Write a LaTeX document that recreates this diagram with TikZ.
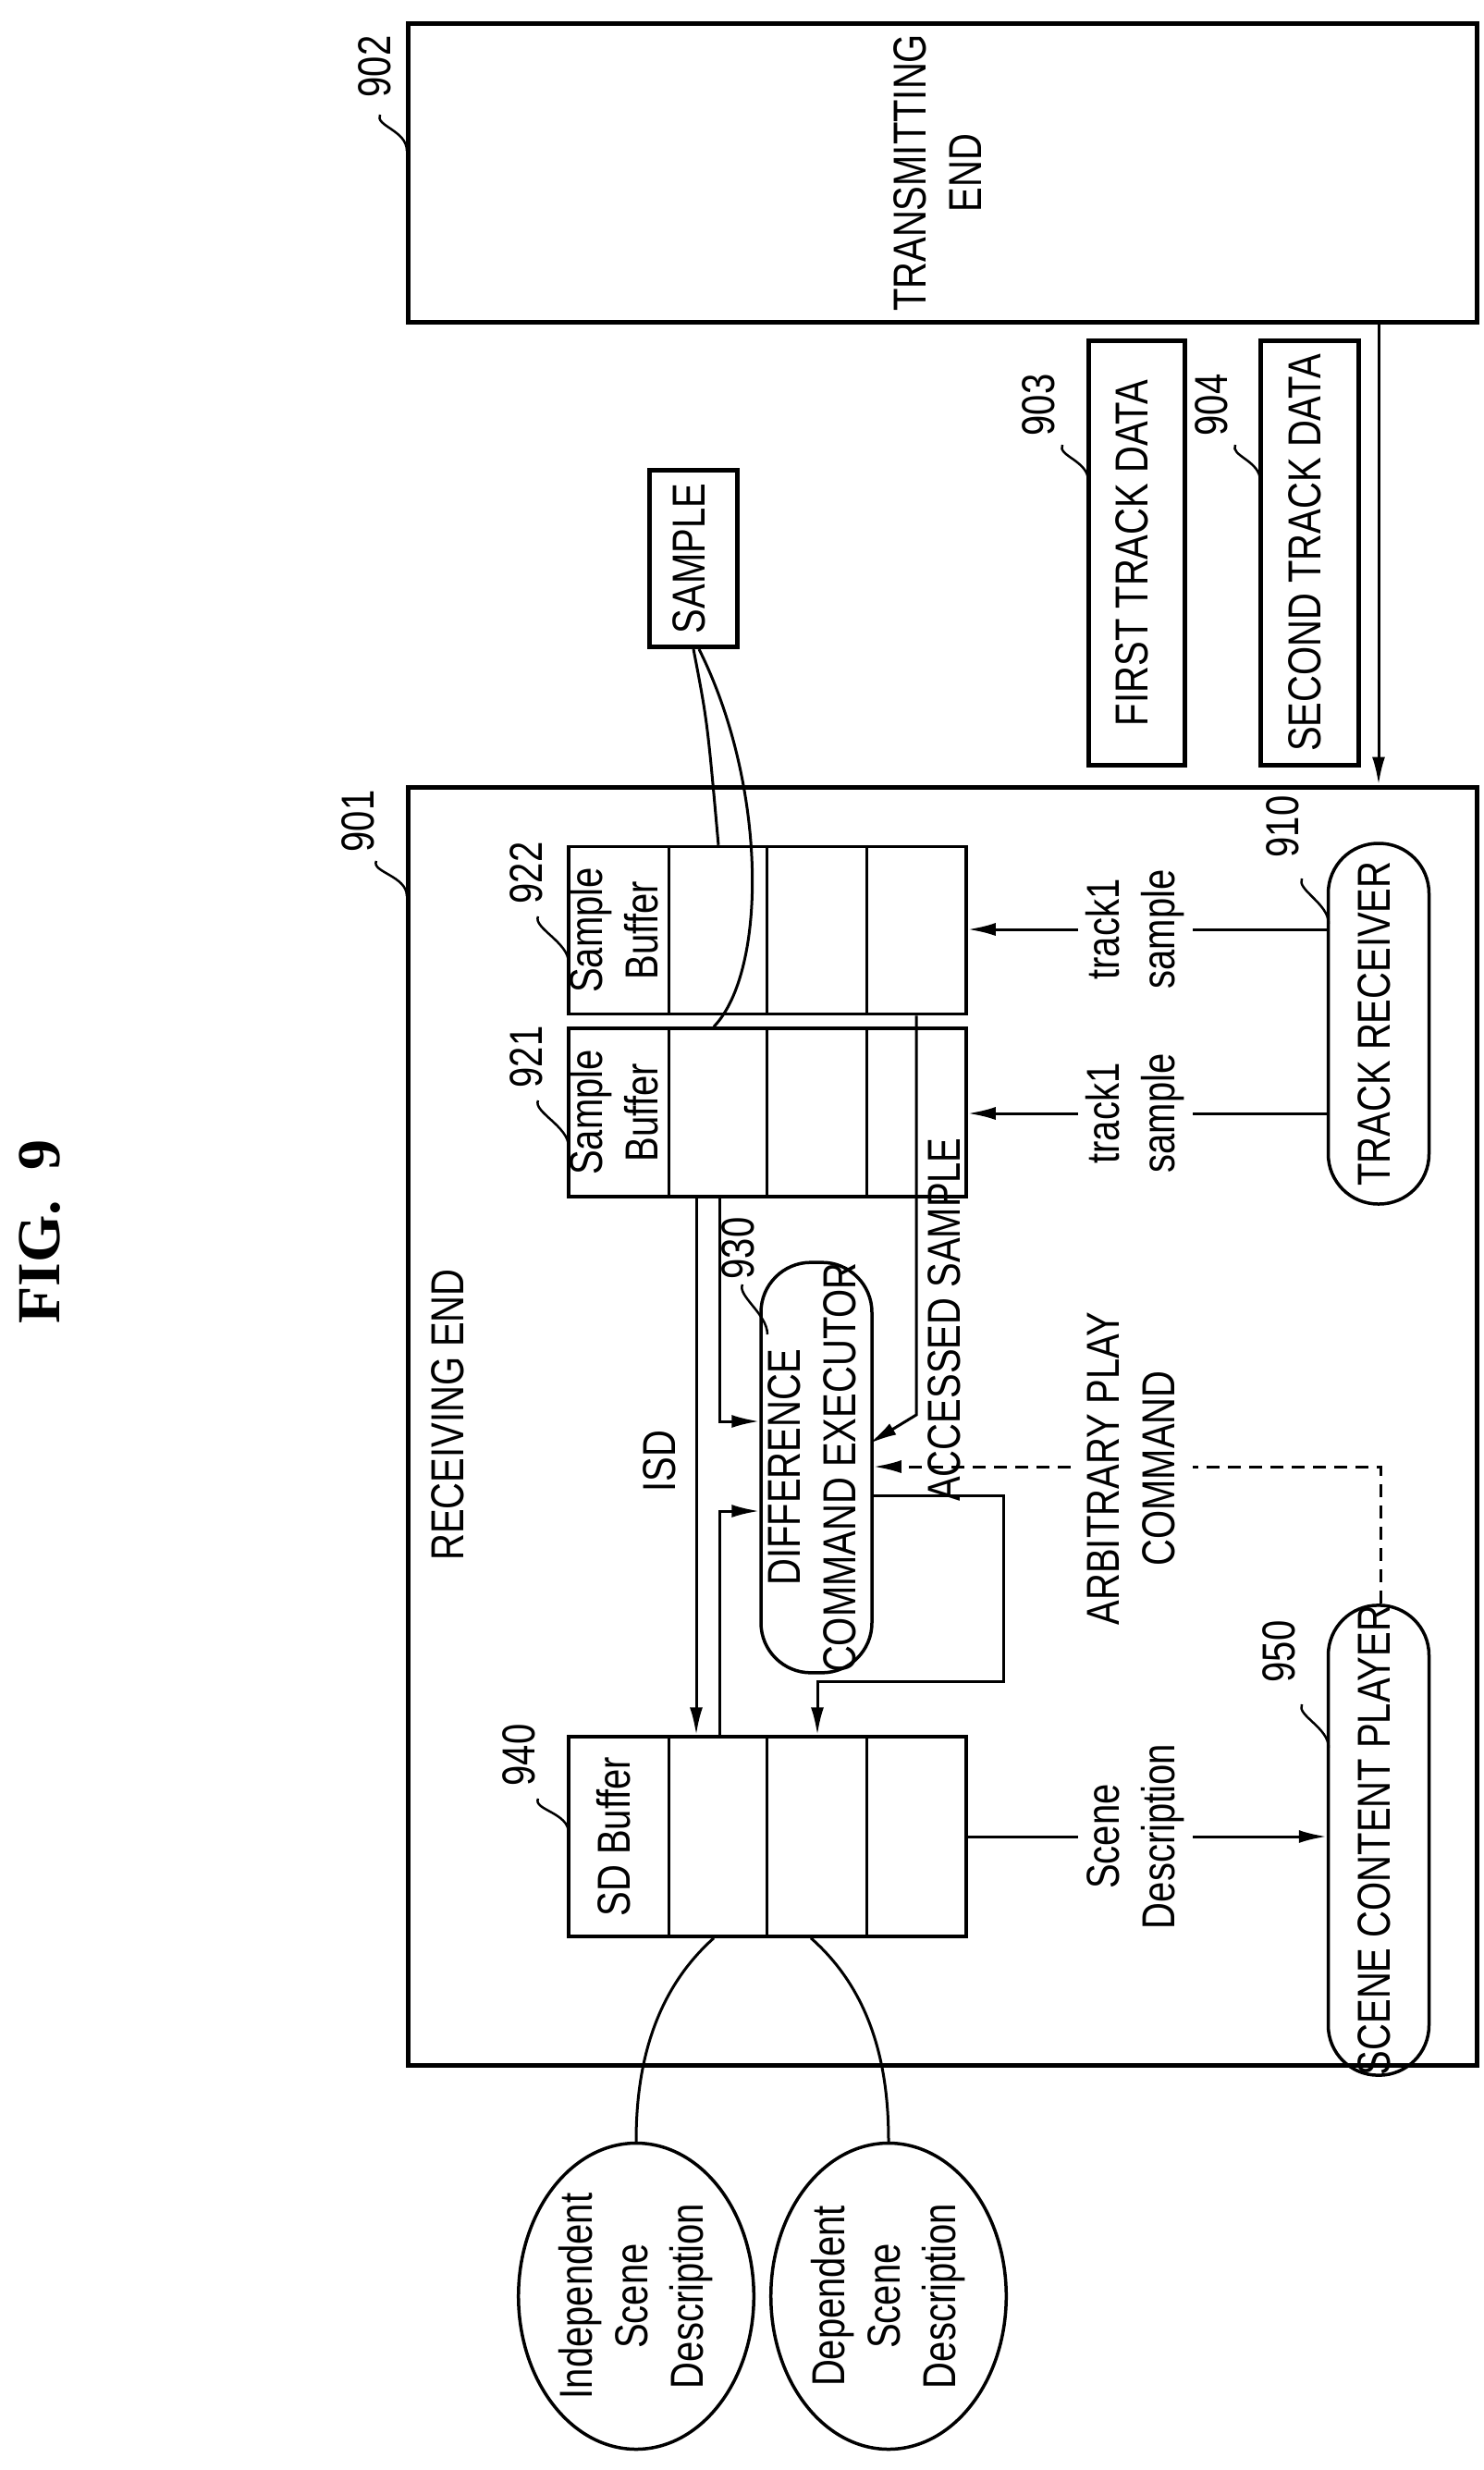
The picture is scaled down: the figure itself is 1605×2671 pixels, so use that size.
\documentclass[tikz,border=0pt]{standalone}
\usepackage{fontspec}
\setmainfont{Liberation Sans}[FakeStretch=0.8]
\newfontfamily\figfont{Liberation Serif}
\usepackage{tikz}
\usetikzlibrary{arrows.meta,calc,shapes.geometric}
\newcommand{\rot}[1]{\rotatebox{90}{\begin{tabular}{@{}c@{}}#1\end{tabular}}}
\tikzset{
  box/.style={draw,line width=3.5pt,inner sep=0pt},
  pill/.style={box,rounded corners=54pt},
  lbl/.style={inner sep=2pt,font=\fontsize{50}{60}\selectfont},
  wlbl/.style={lbl,fill=white},
  lead/.style={line width=2.5pt},
  flow/.style={line width=3pt,-{Latex[length=30pt,width=14pt]}},
}
\begin{document}
\begin{tikzpicture}[x=1pt,y=-1pt,font=\fontsize{50}{60}\selectfont]
    \useasboundingbox (0,0) rectangle (1605,2671);
    \node[font=\figfont\bfseries\fontsize{66}{70}\selectfont] (fig) at (51,1332) {\rot{FIG.~~9}};

    % outer boxes
    \node[box,line width=5pt,minimum width=1156pt,minimum height=322pt] (trans) at (1019,187) {\rot{TRANSMITTING\\END}};
    \node[box,line width=5pt,minimum width=1156pt,minimum height=1382pt] (recv) at (1019,1542) {};
    \node[box,line width=5pt,minimum width=104pt,minimum height=459pt] (ftd) at (1229,598) {\rot{FIRST TRACK DATA}};
    \node[box,line width=5pt,minimum width=106pt,minimum height=459pt] (std) at (1416,598) {\rot{SECOND TRACK DATA}};
    \node[box,line width=5pt,minimum width=95pt,minimum height=191pt] (smp) at (750,604) {\rot{SAMPLE}};
    \draw[flow] (trans.south -| 1491,0) -- (recv.north -| 1491,0);

    % buffers
    \node[box,minimum width=430pt,minimum height=181pt] (bufb) at (830,1006) {};
    \node[box,minimum width=430pt,minimum height=182pt] (bufa) at (830,1203) {};
    \node[box,minimum width=430pt,minimum height=216pt] (sdb) at (830,1986) {};
    \foreach \b in {bufa,bufb,sdb}
      \foreach \x in {723,829,937}
        \draw[line width=3pt] (\b.north -| \x,0) -- (\b.south -| \x,0);
    \node at (bufb.center -| 669,0) {\rot{Sample\\Buffer}};
    \node at (bufa.center -| 669,0) {\rot{Sample\\Buffer}};
    \node at (sdb.center -| 669,0) {\rot{SD Buffer}};

    % rounded blocks
    \node[pill,minimum width=109pt,minimum height=413pt] (exe) at (883,1587) {\rot{DIFFERENCE\\COMMAND EXECUTOR}};
    \node[pill,minimum width=109pt,minimum height=390pt] (trk) at (1491,1107) {\rot{TRACK RECEIVER}};
    \node[pill,minimum width=109pt,minimum height=456pt] (scp) at (1491,1990) {\rot{SCENE CONTENT PLAYER}};
    \node[ellipse,draw,line width=3.5pt,minimum width=222pt,minimum height=331pt,inner sep=0pt] (isd) at (688,2483) {\rot{Independent\\Scene\\Description}};
    \node[ellipse,draw,line width=3.5pt,minimum width=222pt,minimum height=331pt,inner sep=0pt] (dsd) at (961,2483) {\rot{Dependent\\Scene\\Description}};

    % connectors
    \draw[flow] (trk.west |- 0,1005) -- (bufb.east |- 0,1005);
    \draw[flow] (trk.west |- 0,1204) -- (bufa.east |- 0,1204);
    \draw[flow] (bufa.south -| 753,0) -- (sdb.north -| 753,0);
    \draw[flow] (bufa.south -| 778,0) -- (778,1537) -- (exe.west |- 0,1537);
    \draw[flow] (sdb.north -| 778,0) -- (778,1634) -- (exe.west |- 0,1634);
    \draw[flow] (bufb.south -| 991,0) -- (991,1530) -- (940,1561);
    \draw[flow] (exe.east |- 0,1617) -- (1085,1617) -- (1085,1818) -- (884,1818) -- (sdb.north -| 884,0);
    \draw[flow,dash pattern=on 14pt off 9pt] (scp.north -| 1493,0) -- (1493,1586) -- (exe.east |- 0,1586);
    \draw[flow] (sdb.east |- 0,1986) -- (scp.west |- 0,1986);
    \draw[line width=3pt] (smp.south) .. controls (765,780) .. (bufb.north -| 777,0);
    \draw[line width=3pt] ($(smp.south)+(6,0)$) .. controls (830,850) and (830,1050) .. (bufa.north -| 772,0);
    \draw[line width=3pt] (sdb.south -| 772,0) .. controls (700,2160) and (688,2250) .. (isd.north);
    \draw[line width=3pt] (sdb.south -| 877,0) .. controls (950,2160) and (961,2250) .. (dsd.north);

    % texts
    \node[lbl] (recvt) at (489,1530) {\rot{RECEIVING END}};
    \node[lbl] (isdt) at (718,1580) {\rot{ISD}};
    \node[lbl] (acct) at (1026,1427) {\rot{ACCESSED SAMPLE}};
    \node[wlbl] (tsa) at (1228,1005) {\rot{track1\\sample}};
    \node[wlbl] (tsb) at (1228,1204) {\rot{track1\\sample}};
    \node[wlbl] (arbt) at (1228,1588) {\rot{ARBITRARY PLAY\\COMMAND}};
    \node[wlbl] (sdt) at (1228,1986) {\rot{Scene\\Description}};

    % reference numerals
    \node[lbl] (n902) at (410,72) {\rot{902}};
    \node[lbl] (n901) at (392,888) {\rot{901}};
    \node[lbl] (n903) at (1128,438) {\rot{903}};
    \node[lbl] (n904) at (1315,438) {\rot{904}};
    \node[lbl] (n922) at (574,944) {\rot{922}};
    \node[lbl] (n921) at (574,1143) {\rot{921}};
    \node[lbl] (n930) at (803,1350) {\rot{930}};
    \node[lbl] (n940) at (566,1898) {\rot{940}};
    \node[lbl] (n910) at (1392,894) {\rot{910}};
    \node[lbl] (n950) at (1388,1786) {\rot{950}};
    \foreach \a/\b/\c/\d in {411/124/440/163, 407/931/440/969, 1149/481/1177/520, 1336/481/1363/520,
        582/991/615/1041, 582/1190/615/1240, 803/1389/830/1443, 582/1945/615/1982,
        1408/950/1437/999, 1408/1843/1437/1890}
      \draw[lead] (\a,\b) .. controls (\a-6,\b+12) and (\c,\d-22) .. (\c,\d);
\end{tikzpicture}
\end{document}
